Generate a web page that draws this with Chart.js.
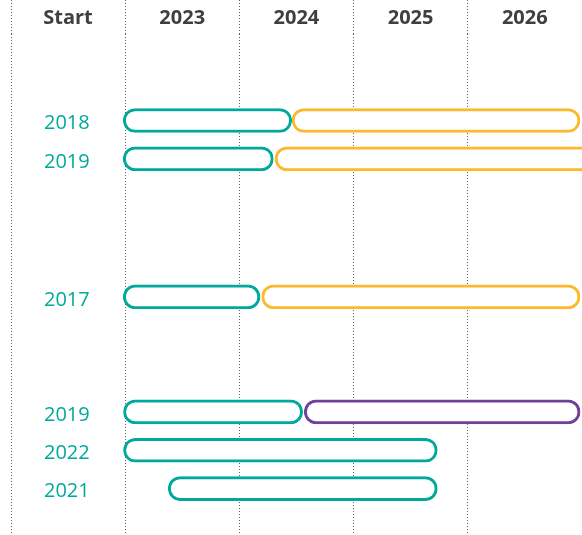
<!DOCTYPE html>
<html>
<head>
<meta charset="utf-8">
<script src="https://cdn.jsdelivr.net/npm/chart.js@4/dist/chart.umd.min.js"></script>
<style>
  html, body { margin: 0; padding: 0; background: #ffffff; }
  #wrap { width: 582px; height: 535px; position: relative; }
</style>
</head>
<body>
<div id="wrap"><canvas id="c"></canvas></div>
<script>
// ---- data ----
const headerLabels = ['Start', '2023', '2024', '2025', '2026', ''];
const yearTicks = [2022, 2023, 2024, 2025, 2026, 2027];
const rowLabels = ['2018', '2019', '2017', '2019', '2022', '2021'];
const rowPos = [0, 1, 4.6, 7.6, 8.6, 9.6];
const phase1Start = [2022.983, 2022.983, 2022.983, 2022.985, 2022.985, 2023.377];
const phase1End   = [2024.458, 2024.297, 2024.180, 2024.554, 2025.733, 2025.733];
const phase2Start = [2024.461, 2024.312, 2024.195, 2024.568, null, null];
const phase2End   = [2026.983, 2027.100, 2026.983, 2026.983, null, null];
const phase2Kind  = ['yellow', 'yellow', 'yellow', 'purple', null, null];

const TEAL = '#00A99B';
const YELLOW = '#FDB82C';
const PURPLE = '#71409A';
const GRID = '#5f5f5f';
const kindColor = { yellow: YELLOW, purple: PURPLE };

const phase1Data = rowPos.map((p, i) => ({ x: [phase1Start[i], phase1End[i]], y: p }));
const phase2Data = [];
const phase2Colors = [];
rowPos.forEach((p, i) => {
  if (phase2Start[i] !== null) {
    phase2Data.push({ x: [phase2Start[i], phase2End[i]], y: p });
    phase2Colors.push(kindColor[phase2Kind[i]]);
  }
});

const barCommon = {
  backgroundColor: '#ffffff',
  borderWidth: 3,
  borderRadius: 100,
  borderSkipped: false,
  grouped: false,
  barPercentage: 1,
  categoryPercentage: 1,
  maxBarThickness: 24
};

const HEADER_H = 34;

new Chart(document.getElementById('c'), {
  type: 'bar',
  data: {
    datasets: [
      Object.assign({ label: 'Phase 1', data: phase1Data, borderColor: TEAL }, barCommon),
      Object.assign({ label: 'Phase 2', data: phase2Data, borderColor: phase2Colors }, barCommon)
    ]
  },
  options: {
    indexAxis: 'y',
    responsive: true,
    maintainAspectRatio: false,
    animation: false,
    layout: { padding: 0 },
    plugins: { legend: { display: false }, tooltip: { enabled: false } },
    scales: {
      x: {
        type: 'linear',
        position: 'top',
        min: 2022,
        max: 2027,
        afterBuildTicks: (s) => { s.ticks = yearTicks.map(v => ({ value: v })); },
        afterFit: (s) => { s.height = HEADER_H; s.paddingLeft = 0; s.paddingRight = 0; },
        grid: {
          display: true, drawTicks: true, tickLength: HEADER_H,
          color: GRID, lineWidth: 1,
          tickColor: GRID, tickWidth: 1, tickBorderDash: [1, 2]
        },
        border: { display: false, dash: [1, 2] },
        ticks: {
          autoSkip: false,
          maxRotation: 0,
          padding: -30,
          labelOffset: 57,
          color: '#3f3f3f',
          font: { family: 'Open Sans', size: 20, weight: 'bold' },
          callback: (v, i) => headerLabels[i]
        }
      },
      y: {
        type: 'linear',
        reverse: true,
        offset: false,
        min: -2.255,
        max: 10.81,
        afterBuildTicks: (s) => { s.ticks = rowPos.map(v => ({ value: v })); },
        afterFit: (s) => { s.width = 11; s.paddingTop = 0; s.paddingBottom = 0; },
        grid: { display: false, offset: false },
        border: { display: false },
        ticks: {
          autoSkip: false,
          mirror: true,
          crossAlign: 'center',
          padding: 33,
          labelOffset: 3,
          color: TEAL,
          font: { family: 'Open Sans', size: 20 },
          callback: (v, i) => rowLabels[i]
        }
      }
    }
  }
});
</script>
</body>
</html>
